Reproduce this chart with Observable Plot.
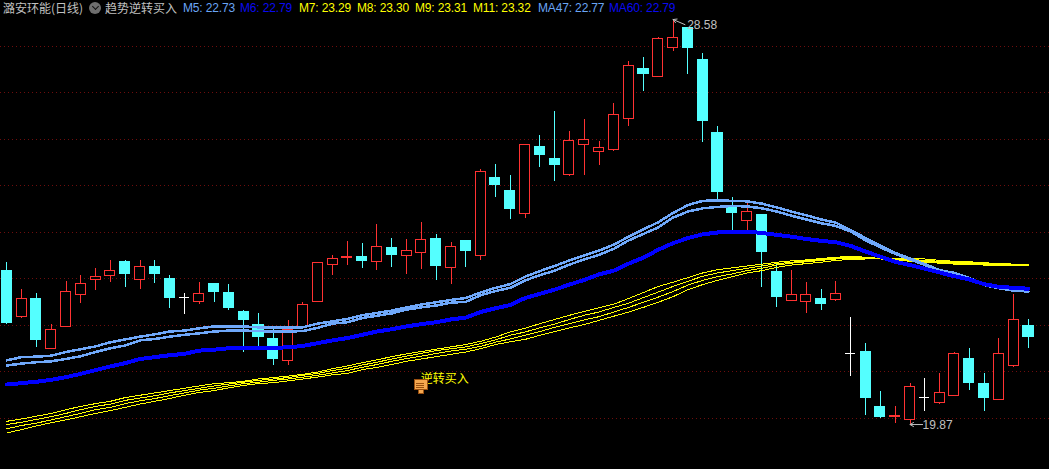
<!DOCTYPE html>
<html>
<head>
<meta charset="utf-8">
<script src="https://cdn.jsdelivr.net/npm/d3@7"></script>
<script src="https://cdn.jsdelivr.net/npm/@observablehq/plot@0.6"></script>
<style>
html,body{margin:0;padding:0;background:#000;overflow:hidden}
#wrap{position:relative;width:1049px;height:469px}
#wrap svg{display:block;background:#000}
.h{position:absolute;top:1px;font:12px/14px "Liberation Sans","Noto Sans CJK SC",sans-serif;white-space:pre;letter-spacing:-.15px}
.c{font-family:"Noto Sans CJK SC","Liberation Sans",sans-serif;letter-spacing:0}
#ico{position:absolute;left:89px;top:2px;width:12px;height:12px;border-radius:50%;background:#6e6e6e}
#ico:after{content:"";position:absolute;left:3.5px;top:2px;width:4px;height:4px;border-right:1px solid #111;border-bottom:1px solid #111;transform:rotate(45deg)}
</style>
</head>
<body>
<div id="wrap"></div>
<script>
const high = [
23.36,22.77,22.69,22.02,22.95,23.08,23.23,23.40,23.40,23.40,
23.40,23.08,22.69,22.92,22.90,22.88,22.32,22.26,21.94,22.11,
22.50,23.35,23.50,23.81,23.76,24.17,23.87,23.85,24.22,23.96,
23.78,23.81,25.36,25.46,25.23,25.89,26.09,26.60,26.17,26.43,
25.96,26.77,27.68,27.76,28.19,28.58,28.39,27.85,26.28,24.75,
24.65,24.39,23.31,23.18,22.92,22.77,22.95,22.17,21.61,20.58,
20.26,20.75,20.86,20.97,21.41,21.51,20.97,21.72,22.67,22.13];
const low = [
22.02,22.15,21.53,21.49,21.96,22.48,22.75,22.92,22.82,22.78,
22.90,22.37,22.24,22.46,22.49,22.32,21.42,21.53,21.14,21.14,
21.91,22.49,23.08,23.29,23.23,23.18,23.25,23.10,23.20,22.97,
22.88,23.25,23.40,24.75,24.28,24.30,25.40,25.10,25.21,25.23,
25.44,25.74,26.28,27.03,27.34,27.89,27.40,25.94,24.65,24.02,
24.02,22.82,22.39,22.52,22.26,22.32,22.52,20.90,20.06,20.00,
19.89,19.87,20.15,20.30,20.48,20.60,20.15,20.39,21.10,21.50];
const open = [
23.18,22.18,22.58,21.49,21.96,22.65,22.97,23.06,23.36,22.97,
23.25,22.99,22.60,22.50,22.90,22.69,22.30,22.00,21.70,21.23,
21.96,22.50,23.30,23.45,23.48,23.36,23.66,23.49,23.55,23.85,
23.23,23.81,23.49,25.18,24.90,24.40,25.83,25.59,25.23,25.89,
25.73,25.77,26.44,27.51,27.34,27.96,28.39,27.70,26.13,24.54,
24.24,24.37,23.16,22.52,22.50,22.58,22.55,21.39,21.44,20.24,
20.03,19.96,20.45,20.33,20.48,21.27,20.75,20.39,21.12,21.98];
const close = [
22.05,22.58,21.68,21.91,22.73,22.90,23.05,23.18,23.10,23.26,
23.10,22.60,22.60,22.68,22.73,22.37,22.11,21.76,21.27,21.91,
22.45,23.35,23.43,23.47,23.38,23.69,23.51,23.61,23.84,23.29,
23.69,23.61,25.31,25.03,24.50,25.89,25.66,25.46,25.97,25.99,
25.82,26.53,27.59,27.40,28.17,28.19,27.96,26.39,24.86,24.41,
24.45,23.57,22.62,22.66,22.66,22.47,22.68,21.39,20.45,20.04,
20.05,20.68,20.45,20.55,21.39,20.77,20.43,21.39,22.12,21.76];
const ma47 = [
21.25,21.32,21.33,21.35,21.43,21.49,21.55,21.64,21.70,21.76,
21.81,21.87,21.89,21.94,21.98,21.98,21.98,21.96,21.96,21.96,
21.96,22.04,22.09,22.14,22.22,22.27,22.32,22.39,22.45,22.50,
22.55,22.59,22.71,22.81,22.89,23.05,23.17,23.28,23.40,23.51,
23.61,23.74,23.91,24.07,24.22,24.42,24.59,24.68,24.69,24.68,
24.67,24.62,24.54,24.45,24.37,24.28,24.21,24.05,23.88,23.72,
23.56,23.44,23.32,23.19,23.13,23.02,22.89,22.82,22.80,22.77];
const m5 = [
21.14,21.18,21.21,21.23,21.28,21.34,21.43,21.51,21.57,21.68,
21.71,21.76,21.80,21.83,21.87,21.89,21.89,21.88,21.87,21.87,
21.88,21.95,22.04,22.07,22.16,22.21,22.26,22.34,22.39,22.43,
22.49,22.51,22.65,22.74,22.81,22.97,23.08,23.18,23.31,23.42,
23.52,23.65,23.83,23.97,24.11,24.32,24.45,24.52,24.55,24.57,
24.56,24.52,24.45,24.36,24.28,24.20,24.14,24.02,23.83,23.68,
23.54,23.42,23.30,23.17,23.11,23.00,22.87,22.80,22.75,22.73];
const m6 = [
20.73,20.76,20.79,20.83,20.89,20.96,21.04,21.12,21.19,21.28,
21.32,21.36,21.39,21.46,21.48,21.51,21.51,21.51,21.52,21.53,
21.56,21.62,21.68,21.73,21.80,21.87,21.92,21.98,22.03,22.07,
22.13,22.17,22.29,22.37,22.44,22.59,22.68,22.77,22.88,22.98,
23.10,23.18,23.33,23.46,23.63,23.77,23.88,23.96,24.00,24.00,
24.02,23.99,23.95,23.91,23.86,23.82,23.79,23.71,23.59,23.48,
23.37,23.30,23.22,23.14,23.06,22.99,22.89,22.83,22.81,22.79];
const m7 = [
19.94,19.99,20.05,20.11,20.19,20.26,20.32,20.37,20.45,20.50,
20.55,20.60,20.65,20.70,20.75,20.77,20.80,20.85,20.88,20.91,
20.95,21.00,21.07,21.13,21.20,21.26,21.33,21.39,21.44,21.49,
21.54,21.59,21.66,21.75,21.86,21.94,22.04,22.13,22.22,22.30,
22.38,22.46,22.58,22.71,22.84,22.93,23.03,23.13,23.20,23.24,
23.28,23.32,23.36,23.39,23.41,23.44,23.47,23.48,23.47,23.44,
23.41,23.38,23.36,23.34,23.32,23.31,23.30,23.29,23.29,23.29];
const m8 = [
19.87,19.92,19.98,20.04,20.11,20.19,20.26,20.31,20.39,20.44,
20.49,20.55,20.60,20.65,20.70,20.74,20.78,20.82,20.85,20.88,
20.93,20.97,21.03,21.08,21.15,21.21,21.28,21.34,21.40,21.46,
21.50,21.54,21.61,21.69,21.79,21.86,21.95,22.03,22.13,22.22,
22.29,22.39,22.48,22.60,22.72,22.84,22.95,23.06,23.13,23.18,
23.23,23.28,23.33,23.36,23.39,23.42,23.45,23.46,23.45,23.43,
23.42,23.40,23.38,23.36,23.34,23.33,23.31,23.30,23.30,23.30];
const m9 = [
19.78,19.85,19.90,19.97,20.04,20.11,20.19,20.24,20.32,20.38,
20.43,20.49,20.55,20.61,20.65,20.70,20.75,20.78,20.82,20.85,
20.89,20.93,20.98,21.03,21.10,21.16,21.23,21.29,21.34,21.40,
21.45,21.49,21.55,21.64,21.71,21.79,21.87,21.96,22.04,22.12,
22.19,22.29,22.39,22.50,22.61,22.73,22.87,22.97,23.05,23.11,
23.18,23.23,23.30,23.34,23.37,23.40,23.43,23.44,23.44,23.43,
23.43,23.42,23.40,23.38,23.36,23.35,23.33,23.32,23.31,23.31];
const m11 = [
19.69,19.76,19.84,19.91,19.97,20.04,20.11,20.17,20.24,20.31,
20.37,20.43,20.50,20.56,20.60,20.66,20.71,20.75,20.77,20.81,
20.85,20.89,20.94,20.97,21.05,21.10,21.16,21.23,21.28,21.33,
21.38,21.43,21.50,21.59,21.65,21.70,21.79,21.87,21.95,22.02,
22.11,22.20,22.29,22.39,22.50,22.62,22.77,22.88,22.97,23.05,
23.13,23.18,23.25,23.30,23.33,23.36,23.40,23.42,23.43,23.43,
23.44,23.44,23.43,23.40,23.38,23.37,23.35,23.33,23.32,23.32];
const gridPrices = [20,21,22,23,24,25,26,27,28];
const headLabels = [
  ["M5: 22.73",183,"#6aa5f5"],["M6: 22.79",240,"#0a0af0"],["M7: 23.29",299,"#ffff00"],
  ["M8: 23.30",357,"#ffff00"],["M9: 23.31",415,"#ffff00"],["M11: 23.32",473,"#ffff00"],
  ["MA47: 22.77",538,"#6aa5f5"],["MA60: 22.79",609,"#0a0af0"]];
const RED="#ff3232", CYAN="#54ffff", WHITE="#ffffff", GREY="#c0c0c0", LIGHT="#6fa8fa", BLUE="#0000ff", YEL="#ffff00";

const idx = d3.range(high.length);
const candles = idx.map(i => ({i, o:open[i], c:close[i], h:high[i], l:low[i],
  col: close[i]>open[i]?RED:close[i]<open[i]?CYAN:WHITE}));
const bodies = candles.filter(d=>d.o!==d.c), dojis = candles.filter(d=>d.o===d.c);
const lineOf = (arr,stroke,strokeWidth)=>Plot.line(idx,{x:i=>i,y:i=>arr[i],stroke,strokeWidth,shapeRendering:"crispEdges",curve:"linear"});
const sig = 28, hi = 45, lo = 61;
const chart = Plot.plot({
  width:1049,height:469,margin:0,
  style:{background:"#000",overflow:"hidden"},
  x:{type:"linear",domain:[-0.4255,70.42],range:[0,1049],axis:null},
  y:{type:"linear",domain:[18.903,28.989],range:[469,0],axis:null},
  marks:[
    Plot.ruleY(gridPrices,{stroke:"#6e0d0d",strokeWidth:1,strokeDasharray:"1 3",shapeRendering:"crispEdges"}),
    Plot.ruleX(candles,{x:"i",y1:"l",y2:"h",stroke:"col",strokeWidth:1,shapeRendering:"crispEdges"}),
    Plot.rect(bodies,{x1:d=>d.i-.34,x2:d=>d.i+.34,y1:"o",y2:"c",
      fill:d=>d.col===RED?"#000":d.col,stroke:"col",strokeWidth:1,shapeRendering:"crispEdges"}),
    Plot.ruleY(dojis,{y:"c",x1:d=>d.i-.34,x2:d=>d.i+.34,stroke:"col",strokeWidth:1,shapeRendering:"crispEdges"}),
    lineOf(m11,YEL,1),lineOf(m9,YEL,1),lineOf(m8,YEL,1),lineOf(m7,YEL,1),
    lineOf(ma47,LIGHT,2.5),lineOf(m5,LIGHT,2.5),
    lineOf(m6,BLUE,4),
    Plot.arrow([hi],{x1:i=>i+.8,y1:i=>high[i]-.11,x2:i=>i,y2:i=>high[i],bend:0,stroke:GREY,strokeWidth:1,headLength:6}),
    Plot.text([hi],{x:i=>i+.95,y:i=>high[i]-.13,text:i=>high[i].toFixed(2),textAnchor:"start",fill:GREY,fontSize:12,fontFamily:"Liberation Sans"}),
    Plot.arrow([lo],{x1:i=>i+.85,y1:i=>low[i],x2:i=>i,y2:i=>low[i],bend:0,stroke:GREY,strokeWidth:1,headLength:6}),
    Plot.text([lo],{x:i=>i+.85,y:i=>low[i]-.02,text:i=>low[i].toFixed(2),textAnchor:"start",fill:GREY,fontSize:12,fontFamily:"Liberation Sans"}),
    Plot.text([sig],{x:i=>i-.05,y:()=>20.85,text:()=>"逆转买入",textAnchor:"start",fill:YEL,fontSize:12,fontFamily:"Noto Sans CJK SC"}),
    Plot.rect([sig],{x1:i=>i-.17,x2:i=>i+.17,y1:()=>20.52,y2:()=>20.62,fill:"#f5a850",stroke:"#9a5010",shapeRendering:"crispEdges"}),
    Plot.rect([sig],{x1:i=>i-.46,x2:i=>i+.46,y1:()=>20.61,y2:()=>20.82,fill:"#f5a850",stroke:"#9a5010",shapeRendering:"crispEdges"}),
    Plot.ruleY([20.76,20.71,20.66],{x1:()=>sig-.32,x2:()=>sig+.2,stroke:"#9a5010",strokeWidth:1,shapeRendering:"crispEdges"})
  ]
});
const wrap=document.getElementById("wrap");
wrap.appendChild(chart);
const add=(txt,left,col,cls)=>{const s=document.createElement("span");s.className="h"+(cls?" "+cls:"");s.textContent=txt;s.style.left=left+"px";s.style.color=col;wrap.appendChild(s)};
add("潞安环能(日线)",3,GREY,"c");
const ic=document.createElement("div");ic.id="ico";wrap.appendChild(ic);
add("趋势逆转买入",105,GREY,"c");
headLabels.forEach(([t,l,c])=>add(t,l,c));
</script>
</body>
</html>
